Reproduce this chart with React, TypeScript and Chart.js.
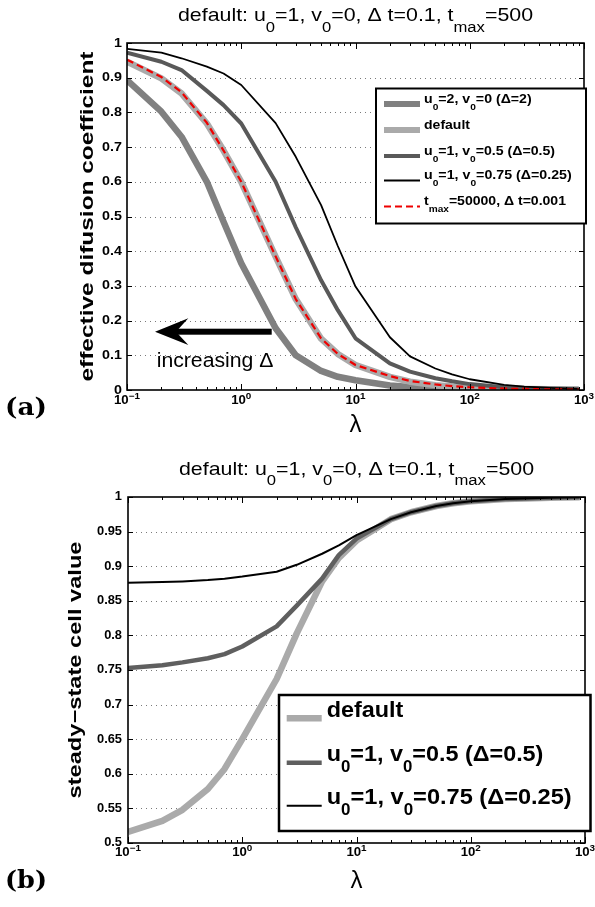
import React, { useEffect, useRef } from "react";
import { Chart, registerables } from "chart.js";
Chart.register(...registerables);

// ---------------- data ----------------
const lambda = [0.1, 0.2, 0.3, 0.5, 0.7, 1, 2, 3, 5, 7, 10, 20, 30, 50, 70, 100, 200, 300, 500, 900];

// (a) effective diffusion coefficient
const effDelta2 = [0.893, 0.802, 0.73, 0.6, 0.485, 0.365, 0.178, 0.1, 0.055, 0.038, 0.028, 0.013, 0.009, 0.005, 0.004, 0.003, 0.002, 0.001, 0.001, 0.0005];
const effDefault = [0.946, 0.898, 0.855, 0.768, 0.69, 0.6, 0.384, 0.262, 0.148, 0.104, 0.072, 0.038, 0.024, 0.014, 0.01, 0.007, 0.004, 0.003, 0.002, 0.001];
const effDelta05 = [0.972, 0.946, 0.922, 0.862, 0.821, 0.768, 0.6, 0.469, 0.316, 0.23, 0.149, 0.077, 0.053, 0.034, 0.025, 0.017, 0.008, 0.006, 0.004, 0.002];
const effDelta025 = [0.983, 0.972, 0.956, 0.932, 0.912, 0.879, 0.769, 0.672, 0.533, 0.415, 0.298, 0.152, 0.097, 0.062, 0.045, 0.031, 0.015, 0.01, 0.006, 0.003];
const effFine = [0.952, 0.902, 0.858, 0.77, 0.69, 0.6, 0.385, 0.262, 0.149, 0.104, 0.072, 0.04, 0.026, 0.016, 0.011, 0.008, 0.004, 0.003, 0.002, 0.001];

// (b) steady-state cell value
const ssDefault = [0.516, 0.532, 0.548, 0.578, 0.607, 0.65, 0.737, 0.803, 0.878, 0.912, 0.937, 0.968, 0.978, 0.987, 0.991, 0.994, 0.997, 0.998, 0.999, 0.9995];
const ssDelta05 = [0.753, 0.757, 0.761, 0.767, 0.773, 0.784, 0.813, 0.843, 0.882, 0.916, 0.94, 0.968, 0.978, 0.987, 0.991, 0.994, 0.997, 0.998, 0.999, 0.9995];
const ssDelta025 = [0.876, 0.877, 0.878, 0.88, 0.882, 0.885, 0.892, 0.902, 0.918, 0.93, 0.945, 0.968, 0.978, 0.987, 0.991, 0.994, 0.997, 0.998, 0.999, 0.9995];

const yTicksTop = [0, 0.1, 0.2, 0.3, 0.4, 0.5, 0.6, 0.7, 0.8, 0.9, 1];
const yLabelsTop = ["0", "0.1", "0.2", "0.3", "0.4", "0.5", "0.6", "0.7", "0.8", "0.9", "1"];
const yTicksBottom = [0.5, 0.55, 0.6, 0.65, 0.7, 0.75, 0.8, 0.85, 0.9, 0.95, 1];
const yLabelsBottom = ["0.5", "0.55", "0.6", "0.65", "0.7", "0.75", "0.8", "0.85", "0.9", "0.95", "1"];
const xTickValues = [0.1, 1, 10, 100, 1000];
const xTickLabels = ["10^{\u22121}", "10^{0}", "10^{1}", "10^{2}", "10^{3}"];

const titleText = "default: u_{0}=1, v_{0}=0, \u0394 t=0.1, t_{max}=500";
const legendTop = [
  "u_{0}=2, v_{0}=0 (\u0394=2)",
  "default",
  "u_{0}=1, v_{0}=0.5 (\u0394=0.5)",
  "u_{0}=1, v_{0}=0.75 (\u0394=0.25)",
  "t_{max}=50000, \u0394 t=0.001",
];
const legendBottom = ["default", "u_{0}=1, v_{0}=0.5 (\u0394=0.5)", "u_{0}=1, v_{0}=0.75 (\u0394=0.25)"];

// ---------------- text helpers ----------------
const FONT = '"Liberation Sans", Arial, Helvetica, sans-serif';
const SERIF = '"DejaVu Serif", "Liberation Serif", serif';

type Seg = { t: string; k: number };
function parseRich(s: string): Seg[] {
  const out: Seg[] = [];
  let buf = "";
  let i = 0;
  while (i < s.length) {
    const c = s[i];
    if ((c === "_" || c === "^") && s[i + 1] === "{") {
      if (buf) { out.push({ t: buf, k: 0 }); buf = ""; }
      const end = s.indexOf("}", i + 2);
      out.push({ t: s.slice(i + 2, end), k: c === "_" ? 1 : 2 });
      i = end + 1;
    } else { buf += c; i++; }
  }
  if (buf) out.push({ t: buf, k: 0 });
  return out;
}

interface TextOpt {
  size: number; bold?: boolean; family?: string; align?: "left" | "center" | "right";
  width?: number; sx?: number; baseline?: CanvasTextBaseline; subScale?: number;
  subShift?: number; supShift?: number; color?: string;
}
function drawRich(ctx: CanvasRenderingContext2D, text: string, x: number, y: number, o: TextOpt) {
  const segs = parseRich(text);
  const ss = o.subScale ?? 0.75;
  const w = o.bold ? "bold " : "";
  const fam = o.family ?? FONT;
  const fontFor = (s: Seg) => `${w}${s.k ? o.size * ss : o.size}px ${fam}`;
  let nat = 0;
  for (const s of segs) { ctx.font = fontFor(s); nat += ctx.measureText(s.t).width; }
  const sx = o.width ? o.width / nat : (o.sx ?? 1);
  const tw = nat * sx;
  const al = o.align ?? "left";
  const x0 = al === "left" ? x : al === "center" ? x - tw / 2 : x - tw;
  ctx.save();
  ctx.translate(x0, y);
  ctx.scale(sx, 1);
  ctx.fillStyle = o.color ?? "#000";
  ctx.textAlign = "left";
  ctx.textBaseline = o.baseline ?? "alphabetic";
  let cx = 0;
  for (const s of segs) {
    ctx.font = fontFor(s);
    const dy = s.k === 1 ? (o.subShift ?? o.size * 0.55) : s.k === 2 ? -(o.supShift ?? o.size * 0.45) : 0;
    ctx.fillText(s.t, cx, dy);
    cx += ctx.measureText(s.t).width;
  }
  ctx.restore();
}
function drawRotated(ctx: CanvasRenderingContext2D, text: string, x: number, y: number, o: TextOpt) {
  ctx.save();
  ctx.translate(x, y);
  ctx.rotate(-Math.PI / 2);
  drawRich(ctx, text, 0, 0, { ...o, align: "center" });
  ctx.restore();
}

// ---------------- panel configs ----------------
interface LegendRow { label: string; color: string; lw: number; dash?: number[]; y: number; tw: number }
interface PanelCfg {
  id: string; oy: number; height: number;
  pad: { left: number; top: number; right: number; bottom: number };
  yMin: number; yMax: number; yTicks: number[]; yLabels: string[]; yTickSize: number; yTickSx: number;
  titleY: number; yTitle: string; yTitleX: number; yTitleLen: number;
  xTitleY: number; xTickY: number; tag: string; tagY: number;
  legend: { x: number; y: number; w: number; h: number; lw: number; lx1: number; lx2: number; tx: number; size: number; subShift: number; rows: LegendRow[] };
  sets: { data: number[]; color: string; lw: number; dash?: number[]; order: number }[];
  extra?: (ctx: CanvasRenderingContext2D) => void;
}

const topCfg: PanelCfg = {
  id: "a", oy: 0, height: 455,
  pad: { left: 127, top: 43, right: 11, bottom: 65 },
  yMin: 0, yMax: 1, yTicks: yTicksTop, yLabels: yLabelsTop, yTickSize: 13, yTickSx: 1.1,
  titleY: 21, yTitle: "effective difusion coefficient", yTitleX: 93, yTitleLen: 330,
  xTitleY: 432, xTickY: 404, tag: "(a)", tagY: 415,
  legend: {
    x: 376, y: 88.5, w: 210, h: 135, lw: 2, lx1: 384, lx2: 420, tx: 424, size: 13, subShift: 7,
    rows: [
      { label: legendTop[0], color: "#808080", lw: 6, y: 104, tw: 107.7 },
      { label: legendTop[1], color: "#aaaaaa", lw: 6, y: 130, tw: 46 },
      { label: legendTop[2], color: "#595959", lw: 4, y: 156, tw: 131 },
      { label: legendTop[3], color: "#000000", lw: 1.8, y: 180.5, tw: 147.7 },
      { label: legendTop[4], color: "#ee0000", lw: 2.2, dash: [7, 4], y: 206.5, tw: 142 },
    ],
  },
  sets: [
    { data: effDelta2, color: "#808080", lw: 6.5, order: 5 },
    { data: effDefault, color: "#aaaaaa", lw: 6.5, order: 4 },
    { data: effDelta05, color: "#595959", lw: 4, order: 3 },
    { data: effDelta025, color: "#000000", lw: 1.8, order: 2 },
    { data: effFine, color: "#ee0000", lw: 2.2, dash: [7, 4], order: 1 },
  ],
  extra: (ctx) => {
    // arrow "increasing Δ"
    ctx.save();
    ctx.fillStyle = "#000";
    ctx.fillRect(174, 328.7, 97.7, 6);
    ctx.beginPath();
    ctx.moveTo(155, 331.7);
    ctx.lineTo(188.3, 318.3);
    ctx.lineTo(176, 331.7);
    ctx.lineTo(188.3, 345);
    ctx.closePath();
    ctx.fill();
    ctx.restore();
    drawRich(ctx, "increasing \u0394", 156.7, 366.7, { size: 20, width: 116.7 });
  },
};

const bottomCfg: PanelCfg = {
  id: "b", oy: 455, height: 452,
  pad: { left: 128, top: 42, right: 10, bottom: 64 },
  yMin: 0.5, yMax: 1, yTicks: yTicksBottom, yLabels: yLabelsBottom, yTickSize: 12, yTickSx: 1.07,
  titleY: 19.5, yTitle: "steady\u2212state cell value", yTitleX: 81, yTitleLen: 257,
  xTitleY: 433, xTickY: 401, tag: "(b)", tagY: 433,
  legend: {
    x: 279, y: 240, w: 311.5, h: 136, lw: 2.5, lx1: 286.7, lx2: 321.7, tx: 326.7, size: 22, subShift: 11,
    rows: [
      { label: legendBottom[0], color: "#aaaaaa", lw: 6.5, y: 263.3, tw: 76.7 },
      { label: legendBottom[1], color: "#5f5f5f", lw: 4.5, y: 307.7, tw: 216.7 },
      { label: legendBottom[2], color: "#000000", lw: 2, y: 350.7, tw: 245 },
    ],
  },
  sets: [
    { data: ssDefault, color: "#aaaaaa", lw: 6.5, order: 3 },
    { data: ssDelta05, color: "#5f5f5f", lw: 4.5, order: 2 },
    { data: ssDelta025, color: "#000000", lw: 2, order: 1 },
  ],
};

function makePlugin(p: PanelCfg) {
  return {
    id: "decor" + p.id,
    beforeDatasetsDraw(chart: any) {
      const { ctx, chartArea: a, scales } = chart;
      ctx.save();
      ctx.strokeStyle = "#7a7a7a";
      ctx.lineWidth = 1;
      ctx.setLineDash([1, 4]);
      for (const v of p.yTicks) {
        if (v === p.yMin || v === p.yMax) continue;
        const py = Math.round(scales.y.getPixelForValue(v)) + 0.5;
        ctx.beginPath();
        ctx.moveTo(a.left + 3, py);
        ctx.lineTo(a.right - 3, py);
        ctx.stroke();
      }
      ctx.restore();
    },
    afterDatasetsDraw(chart: any) {
      const { ctx, chartArea: a, scales } = chart;
      const sx = scales.x, sy = scales.y;
      ctx.save();
      ctx.strokeStyle = "#000";
      // y ticks
      ctx.lineWidth = 1;
      for (const v of p.yTicks) {
        const py = Math.round(sy.getPixelForValue(v)) + 0.5;
        ctx.beginPath();
        ctx.moveTo(a.left, py); ctx.lineTo(a.left + 5, py);
        ctx.moveTo(a.right, py); ctx.lineTo(a.right - 5, py);
        ctx.stroke();
      }
      // x ticks (major + minor)
      for (let d = 0; d < xTickValues.length; d++) {
        const base = xTickValues[d];
        for (let m = 1; m <= 9; m++) {
          const v = base * m;
          if (v > 1000 + 1e-9) break;
          const px = Math.round(sx.getPixelForValue(v)) + 0.5;
          const len = m === 1 ? 6 : 3;
          ctx.beginPath();
          ctx.moveTo(px, a.bottom); ctx.lineTo(px, a.bottom - len);
          ctx.moveTo(px, a.top); ctx.lineTo(px, a.top + len);
          ctx.stroke();
        }
      }
      // frame
      ctx.lineWidth = 1.6;
      ctx.strokeRect(a.left, a.top, a.right - a.left, a.bottom - a.top);
      ctx.restore();

      // tick labels
      p.yTicks.forEach((v, i) => {
        drawRich(ctx, p.yLabels[i], 122, sy.getPixelForValue(v), { size: p.yTickSize, bold: true, align: "right", baseline: "middle", sx: p.yTickSx });
      });
      xTickValues.forEach((v, i) => {
        drawRich(ctx, xTickLabels[i], sx.getPixelForValue(v), p.xTickY, { size: 12, bold: true, align: "center", sx: 1.1, subScale: 0.75, supShift: 5.5 });
      });

      const cx = (a.left + a.right) / 2;
      // title
      drawRich(ctx, titleText, cx, p.titleY, { size: 19, width: 355, align: "center", subScale: 0.78, subShift: 10.5 });
      // axis titles
      drawRich(ctx, "\u03bb", cx, p.xTitleY, { size: 24, align: "center" });
      drawRotated(ctx, p.yTitle, p.yTitleX, (a.top + a.bottom) / 2, { size: 18, bold: true, width: p.yTitleLen });
      // panel tag
      drawRich(ctx, p.tag, 5, p.tagY, { size: 25, bold: true, family: SERIF, width: 42 });

      // legend
      const L = p.legend;
      ctx.save();
      ctx.fillStyle = "#fff";
      ctx.fillRect(L.x, L.y, L.w, L.h);
      ctx.lineWidth = L.lw;
      ctx.strokeStyle = "#000";
      ctx.strokeRect(L.x, L.y, L.w, L.h);
      for (const r of L.rows) {
        ctx.beginPath();
        ctx.strokeStyle = r.color;
        ctx.lineWidth = r.lw;
        ctx.setLineDash(r.dash ?? []);
        ctx.moveTo(L.lx1, r.y);
        ctx.lineTo(L.lx2, r.y);
        ctx.stroke();
      }
      ctx.restore();
      for (const r of L.rows) {
        drawRich(ctx, r.label, L.tx, r.y - 1.5, { size: L.size, bold: true, width: r.tw, subScale: 0.72, subShift: L.subShift });
      }
      if (p.extra) p.extra(ctx);
    },
  };
}

function Panel({ cfg }: { cfg: PanelCfg }) {
  const ref = useRef<HTMLCanvasElement>(null);
  useEffect(() => {
    const chart = new Chart(ref.current as HTMLCanvasElement, {
      type: "line",
      data: {
        datasets: cfg.sets.map((s) => ({
          data: lambda.map((l, i) => ({ x: l, y: s.data[i] })),
          borderColor: s.color,
          borderWidth: s.lw,
          borderDash: s.dash ?? [],
          order: s.order,
          pointRadius: 0,
          tension: 0,
          fill: false,
          clip: 0,
          borderJoinStyle: "round" as const,
        })),
      },
      options: {
        responsive: false,
        animation: false,
        devicePixelRatio: 1,
        events: [],
        layout: { padding: cfg.pad },
        plugins: { legend: { display: false }, tooltip: { enabled: false }, title: { display: false } },
        scales: {
          x: { type: "logarithmic", min: 0.1, max: 1000, display: false },
          y: { type: "linear", min: cfg.yMin, max: cfg.yMax, display: false },
        },
      },
      plugins: [makePlugin(cfg)],
    } as any);
    return () => chart.destroy();
  }, [cfg]);
  return (
    <canvas
      ref={ref}
      width={595}
      height={cfg.height}
      style={{ position: "absolute", left: 0, top: cfg.oy, width: 595, height: cfg.height }}
    />
  );
}

export default function App() {
  return (
    <div style={{ position: "absolute", left: 0, top: 0, width: 595, height: 907, background: "#fff" }}>
      <Panel cfg={topCfg} />
      <Panel cfg={bottomCfg} />
    </div>
  );
}
